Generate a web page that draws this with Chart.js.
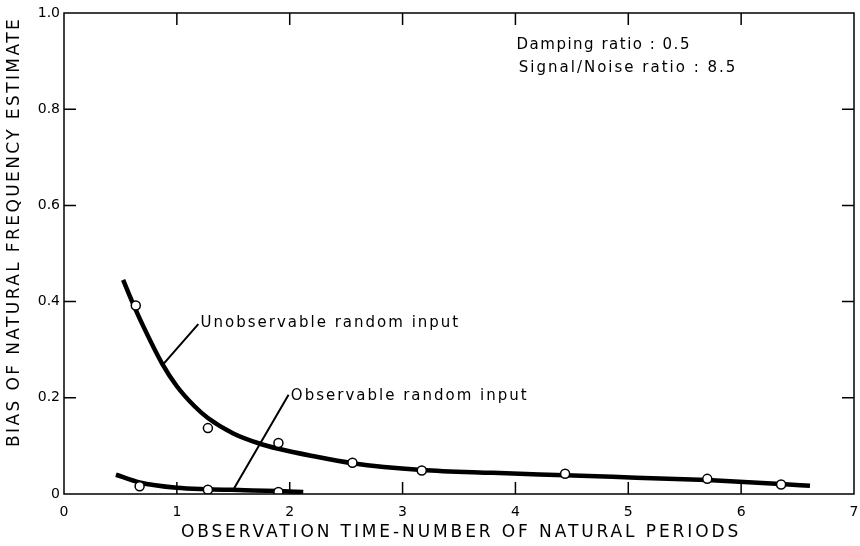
<!DOCTYPE html>
<html>
<head>
<meta charset="utf-8">
<script src="https://cdn.jsdelivr.net/npm/chart.js@4.4.0/dist/chart.umd.min.js"></script>
<style>
    html, body { margin: 0; padding: 0; background: #fff; }
    canvas { display: block; }
</style>
</head>
<body>
<canvas id="chart" width="860" height="546"></canvas>
<script>
const xTicks = [0, 1, 2, 3, 4, 5, 6, 7];
const yTicks = [0, 0.2, 0.4, 0.6, 0.8, 1.0];

// smooth fitted curves
const unobsCurveX = [0.524, 0.60, 0.70, 0.872, 1.0, 1.15, 1.275, 1.50, 1.731, 1.90, 2.20, 2.556, 3.17, 3.80, 4.44, 5.07, 5.70, 6.35, 6.61];
const unobsCurveY = [0.445, 0.402, 0.350, 0.270, 0.224, 0.184, 0.158, 0.126, 0.105, 0.094, 0.079, 0.064, 0.050, 0.044, 0.039, 0.034, 0.029, 0.021, 0.017];
const obsCurveX = [0.46, 0.67, 1.0, 1.275, 1.6, 1.9, 2.12];
const obsCurveY = [0.040, 0.024, 0.013, 0.010, 0.008, 0.006, 0.004];

// measured points (open circles)
const unobsPtsX = [0.636, 1.275, 1.90, 2.556, 3.17, 4.44, 5.70, 6.354];
const unobsPtsY = [0.392, 0.137, 0.106, 0.065, 0.049, 0.042, 0.0315, 0.0197];
const obsPtsX = [0.67, 1.275, 1.90];
const obsPtsY = [0.016, 0.009, 0.004];

const FONT = '"DejaVu Sans", sans-serif';

function pairs(xs, ys) {
    return xs.map((x, i) => ({ x: x, y: ys[i] }));
}

const notes = [
    { text: 'Damping ratio : 0.5', x: 4.01, y: 0.933, spacing: 1.5 },
    { text: 'Signal/Noise ratio : 8.5', x: 4.03, y: 0.885, spacing: 2 },
    { text: 'Unobservable random input', x: 1.21, y: 0.356, spacing: 2 },
    { text: 'Observable random input', x: 2.01, y: 0.204, spacing: 2 }
];
const leaders = [
    { from: [1.19, 0.353], to: [0.872, 0.268] },
    { from: [1.99, 0.2065], to: [1.50, 0.009] }
];

const framePlugin = {
    id: 'frame',
    afterDraw(chart) {
        const ctx = chart.ctx;
        const a = chart.chartArea;
        const x = chart.scales.x, y = chart.scales.y;
        ctx.save();
        ctx.strokeStyle = '#000';
        ctx.lineWidth = 1.5;
        ctx.strokeRect(a.left, a.top, a.right - a.left, a.bottom - a.top);

        // inward ticks on all four sides
        const tl = 12;
        ctx.beginPath();
        x.ticks.forEach((t, i) => {
            const px = x.getPixelForTick(i);
            if (px <= a.left + 1 || px >= a.right - 1) return;
            ctx.moveTo(px, a.bottom); ctx.lineTo(px, a.bottom - tl);
            ctx.moveTo(px, a.top); ctx.lineTo(px, a.top + tl);
        });
        y.ticks.forEach((t, i) => {
            const py = y.getPixelForTick(i);
            if (py >= a.bottom - 1 || py <= a.top + 1) return;
            ctx.moveTo(a.left, py); ctx.lineTo(a.left + tl, py);
            ctx.moveTo(a.right, py); ctx.lineTo(a.right - tl, py);
        });
        ctx.stroke();

        // leader lines
        ctx.lineWidth = 2;
        ctx.beginPath();
        leaders.forEach(l => {
            ctx.moveTo(x.getPixelForValue(l.from[0]), y.getPixelForValue(l.from[1]));
            ctx.lineTo(x.getPixelForValue(l.to[0]), y.getPixelForValue(l.to[1]));
        });
        ctx.stroke();

        // annotations
        ctx.fillStyle = '#000';
        ctx.font = '15px ' + FONT;
        ctx.textAlign = 'left';
        ctx.textBaseline = 'middle';
        notes.forEach(n => {
            ctx.letterSpacing = n.spacing + 'px';
            ctx.fillText(n.text, x.getPixelForValue(n.x), y.getPixelForValue(n.y));
        });

        // axis titles
        ctx.font = '17px ' + FONT;
        ctx.letterSpacing = '2.9px';
        ctx.textAlign = 'center';
        ctx.fillText('OBSERVATION TIME-NUMBER OF NATURAL PERIODS', (a.left + a.right) / 2 + 2, 533);
        ctx.letterSpacing = '2.4px';
        ctx.translate(15, 232);
        ctx.rotate(-Math.PI / 2);
        ctx.fillText('BIAS OF NATURAL FREQUENCY ESTIMATE', 0, 0);
        ctx.restore();
    }
};

new Chart(document.getElementById('chart'), {
    type: 'scatter',
    data: {
        datasets: [
            {
                label: 'Unobservable points',
                data: pairs(unobsPtsX, unobsPtsY),
                pointRadius: 4.5,
                pointBackgroundColor: '#fff',
                pointBorderColor: '#000',
                pointBorderWidth: 1.5
            },
            {
                label: 'Observable points',
                data: pairs(obsPtsX, obsPtsY),
                pointRadius: 4.5,
                pointBackgroundColor: '#fff',
                pointBorderColor: '#000',
                pointBorderWidth: 1.5
            },
            {
                label: 'Unobservable random input',
                data: pairs(unobsCurveX, unobsCurveY),
                showLine: true,
                borderColor: '#000',
                borderWidth: 4.5,
                pointRadius: 0,
                cubicInterpolationMode: 'monotone'
            },
            {
                label: 'Observable random input',
                data: pairs(obsCurveX, obsCurveY),
                showLine: true,
                borderColor: '#000',
                borderWidth: 4.5,
                pointRadius: 0,
                cubicInterpolationMode: 'monotone'
            }
        ]
    },
    options: {
        responsive: false,
        animation: false,
        devicePixelRatio: 1,
        layout: { padding: { top: 13, right: 1, left: 0, bottom: 0 } },
        plugins: {
            legend: { display: false },
            tooltip: { enabled: false }
        },
        scales: {
            x: {
                type: 'linear',
                min: 0,
                max: 7,
                afterBuildTicks: s => { s.ticks = xTicks.map(v => ({ value: v })); },
                afterFit: s => { s.height = 52; s.paddingLeft = 0; s.paddingRight = 0; },
                grid: { display: false, drawTicks: false },
                border: { display: false },
                ticks: {
                    color: '#000',
                    font: { family: FONT, size: 14 },
                    padding: 10,
                    maxRotation: 0,
                    autoSkip: false
                }
            },
            y: {
                min: 0,
                max: 1,
                afterBuildTicks: s => { s.ticks = yTicks.map(v => ({ value: v })); },
                afterFit: s => { s.width = 64; s.paddingTop = 0; s.paddingBottom = 0; },
                grid: { display: false, drawTicks: false },
                border: { display: false },
                ticks: {
                    color: '#000',
                    font: { family: FONT, size: 14 },
                    padding: 4,
                    callback: v => v === 0 ? '0' : v.toFixed(1)
                }
            }
        }
    },
    plugins: [framePlugin]
});
</script>
</body>
</html>
